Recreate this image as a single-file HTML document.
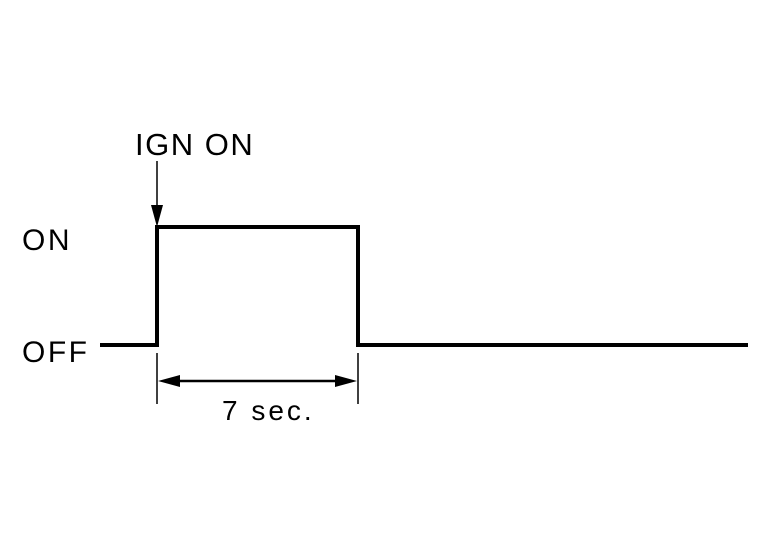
<!DOCTYPE html>
<html><head><style>html,body{margin:0;padding:0;background:#fff;}svg{display:block}</style></head>
<body>
<svg width="769" height="544" viewBox="0 0 769 544" xmlns="http://www.w3.org/2000/svg">
<g font-family="Liberation Sans, Arial, sans-serif" fill="#000">
<text x="135" y="155" font-size="31" letter-spacing="1.5">IGN ON</text>
<text x="22" y="250" font-size="30" letter-spacing="2.5">ON</text>
<text x="22" y="362" font-size="30" letter-spacing="2.5">OFF</text>
<text x="222" y="420" font-size="28" letter-spacing="3">7 sec.</text>
</g>
<polyline points="100,345 157,345 157,227 358,227 358,345 748,345" fill="none" stroke="#000" stroke-width="4" stroke-linejoin="miter"/>
<line x1="157" y1="161" x2="157" y2="210" stroke="#000" stroke-width="1.5"/>
<polygon points="151,205 163,205 157,227" fill="#000"/>
<line x1="157" y1="353" x2="157" y2="404" stroke="#000" stroke-width="1.5"/>
<line x1="358" y1="353" x2="358" y2="404" stroke="#000" stroke-width="1.5"/>
<line x1="175" y1="381" x2="340" y2="381" stroke="#000" stroke-width="2.5"/>
<polygon points="158,381 180,375 180,387" fill="#000"/>
<polygon points="357,381 335,375 335,387" fill="#000"/>
</svg>
</body></html>
